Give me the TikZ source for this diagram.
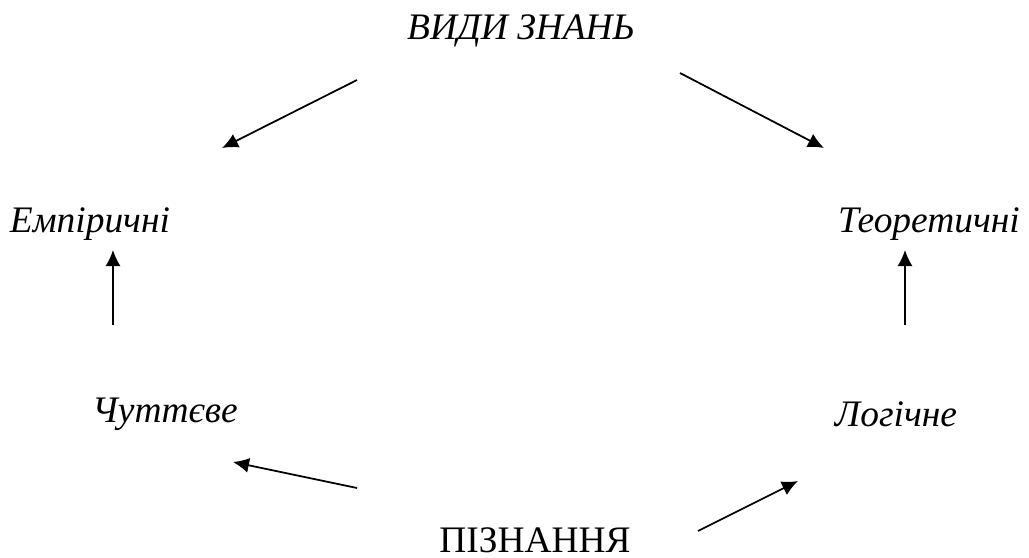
\documentclass[tikz,border=0pt]{standalone}
\usepackage{fontspec}
\setmainfont{Liberation Serif}
\usetikzlibrary{arrows.meta,positioning}

\begin{document}
\begin{tikzpicture}[
  x=0.02cm, y=-0.02cm,
  every node/.style={font=\fontsize{21.3}{25}\selectfont,inner sep=1pt},
  kind/.style={font=\fontsize{21.3}{25}\selectfont\itshape},
  arr/.style={-{Latex[length=0.32cm,width=0.3cm]},line width=1pt},
]
  \useasboundingbox (0,0) rectangle (1029,558);

  % top and bottom labels
  \node[kind] (vydy) at (521,31) {ВИДИ ЗНАНЬ};
  \node (piznannia) at (535,540) {ПІЗНАННЯ};

  % kinds of knowledge
  \node[kind] (empir) at (90,224) {Емпіричні};
  \node[kind] (teor) at (929,224) {Теоретичні};

  % levels of cognition
  \node[kind] (chutt) at (165,414) {Чуттєве};
  \node[kind] (logic) at (896,414) {Логічне};

  % arrow ends
  \coordinate (a1) at (357,80);   \coordinate (b1) at (222,148);
  \coordinate (a2) at (680,73);   \coordinate (b2) at (824,148);
  \coordinate (a3) at (113,325);  \coordinate (b3) at (113,250);
  \coordinate (a4) at (905,325);  \coordinate (b4) at (905,250);
  \coordinate (a5) at (357,488);  \coordinate (b5) at (233,462);
  \coordinate (a6) at (698,531);  \coordinate (b6) at (798,481);

  % arrows
  \draw[arr] (a1) -- (b1);
  \draw[arr] (a2) -- (b2);
  \draw[arr] (a3) -- (b3);
  \draw[arr] (a4) -- (b4);
  \draw[arr] (a5) -- (b5);
  \draw[arr] (a6) -- (b6);
\end{tikzpicture}
\end{document}
